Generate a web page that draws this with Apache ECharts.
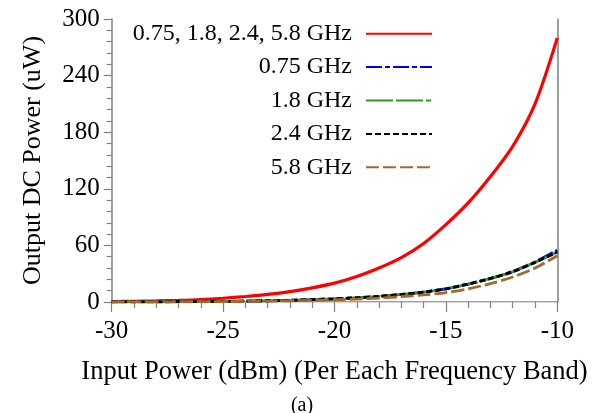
<!DOCTYPE html>
<html>
<head>
<meta charset="utf-8">
<script src="https://cdn.jsdelivr.net/npm/echarts@6/dist/echarts.min.js"></script>
<style>
html,body{margin:0;padding:0;background:#fff;}
#c{width:606px;height:413px;}
</style>
</head>
<body>
<div id="c"></div>
<script>
// Input power (dBm)
const inputPower = [-30,-29,-28,-27,-26,-25,-24,-23,-22,-21,-20,-19,-18,-17,-16,-15,-14,-13,-12,-11,-10];
// Output DC power (uW)
const allBands = [0.4,0.7,1.1,1.7,2.6,4.0,5.8,8.0,11,15,20,27,36,47,62,82,105,133,165,210,280];
const band075  = [0.1,0.15,0.2,0.3,0.45,0.65,0.9,1.3,1.8,2.5,3.4,4.5,6.0,8.0,10.5,14,19,25,32.5,42.5,55];
const band18   = [0.1,0.15,0.2,0.3,0.45,0.65,0.9,1.3,1.8,2.5,3.4,4.5,6.0,8.0,10.5,14,19,25,32,42,53];
const band24   = [0.1,0.15,0.2,0.3,0.45,0.65,0.9,1.3,1.8,2.5,3.4,4.5,6.0,8.0,10.5,14,19,25,32,42,53];
const band58   = [0.05,0.1,0.15,0.2,0.3,0.45,0.65,0.9,1.3,1.8,2.3,3.1,4.2,5.6,7.5,10,14,19.5,26.5,36,49];
const seriesNames = ['0.75, 1.8, 2.4, 5.8 GHz','0.75 GHz','1.8 GHz','2.4 GHz','5.8 GHz'];
const yTicks = {min:0,max:300,interval:60};
const xTicks = {min:-30,max:-10,interval:5};

function pairs(vals){ return inputPower.map((x,i)=>[x,vals[i]]); }

const FONT = 'Liberation Serif';
const chart = echarts.init(document.getElementById('c'), null, {renderer:'canvas'});
const styles = [
  {color:'#ff0000', width:3.2, type:'solid'},
  {color:'#0000ee', width:2.8, type:[16,3,5,3]},
  {color:'#2e9a2e', width:2.8, type:[27,3,27,3,5,3]},
  {color:'#000000', width:2.8, type:[6,3]},
  {color:'#a8662f', width:2.8, type:[13,4]}
];
const datas = [allBands, band075, band18, band24, band58];

chart.setOption({
  animation:false,
  backgroundColor:'#fff',
  grid:{left:111.7, right:48.7, top:19, bottom:111, containLabel:false},
  title:{text:'(a)', left:297, top:391, textAlign:'center',
    textStyle:{fontFamily:FONT, fontSize:20, fontWeight:'normal', color:'#000'}},
  legend:{
    orient:'vertical', align:'right', right:168, top:16.7,
    itemWidth:66, itemHeight:14, itemGap:9.4,
    data:seriesNames,
    itemStyle:{opacity:0, color:'transparent', borderWidth:0},
    textStyle:{fontFamily:FONT, fontSize:24, color:'#000', lineHeight:24, padding:[0,9,0,0]}
  },
  xAxis:[{
    type:'value', min:xTicks.min, max:xTicks.max, interval:xTicks.interval,
    name:'Input Power (dBm) (Per Each Frequency Band)', nameLocation:'middle', nameGap:57,
    nameTextStyle:{fontFamily:FONT, fontSize:26.5, color:'#000'},
    axisLine:{show:true, onZero:false, lineStyle:{color:'#808080', width:1.5}},
    axisTick:{show:true, length:10, lineStyle:{color:'#808080', width:1.2}},
    minorTick:{show:true, splitNumber:5, length:6, lineStyle:{color:'#808080', width:1.2}},
    axisLabel:{fontFamily:FONT, fontSize:25, color:'#000', margin:17},
    splitLine:{show:false}
  },{
    type:'value', position:'top', min:xTicks.min, max:xTicks.max,
    axisLine:{show:true, lineStyle:{color:'#d8d8d8', width:1}},
    axisTick:{show:false}, axisLabel:{show:false}, splitLine:{show:false}
  }],
  yAxis:[{
    type:'value', min:yTicks.min, max:yTicks.max, interval:yTicks.interval,
    name:'Output DC Power (uW)', nameLocation:'middle', nameGap:66, nameRotate:90,
    nameTextStyle:{fontFamily:FONT, fontSize:26, color:'#000'},
    axisLine:{show:true, onZero:false, lineStyle:{color:'#808080', width:1.5}},
    axisTick:{show:true, length:8, lineStyle:{color:'#808080', width:1.2}},
    minorTick:{show:true, splitNumber:5, length:5, lineStyle:{color:'#808080', width:1.2}},
    axisLabel:{fontFamily:FONT, fontSize:25, color:'#000', margin:12},
    splitLine:{show:false}
  },{
    type:'value', position:'right', min:yTicks.min, max:yTicks.max,
    axisLine:{show:true, lineStyle:{color:'#808080', width:1.5}},
    axisTick:{show:false}, axisLabel:{show:false}, splitLine:{show:false}
  }],
  series: seriesNames.map((n,i)=>({
    name:n, type:'line', data:pairs(datas[i]), smooth:0.3,
    symbol:'none', showSymbol:false, xAxisIndex:0, yAxisIndex:0,
    lineStyle:{color:styles[i].color, width:styles[i].width, type:styles[i].type},
    itemStyle:{color:styles[i].color},
    z:2+i
  }))
});
</script>
</body>
</html>
